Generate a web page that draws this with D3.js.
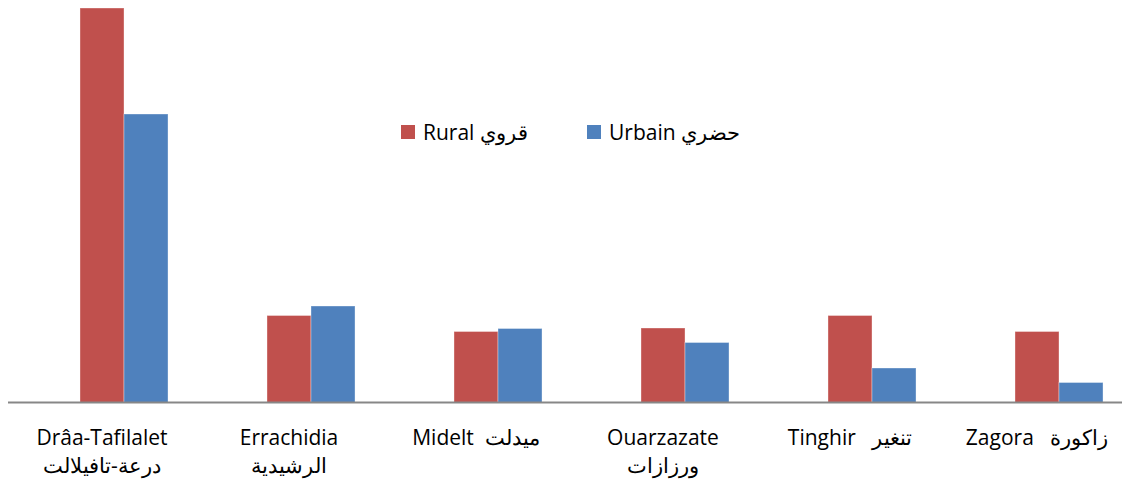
<!DOCTYPE html>
<meta charset="utf-8">
<style>
body { margin: 0; background: #fff; }
svg { font-family: "Open Sans", "Noto Sans", sans-serif; }
.lbl { font-size: 21px; fill: #000; white-space: pre; }
.legend text { font-size: 21px; fill: #000; white-space: pre; }
</style>
<body>
<script src="https://d3js.org/d3.v7.min.js"></script>
<script>

// categories (first line / second line of each tick label)
var provinces = ["Drâa-Tafilalet", "Errachidia", "Midelt", "Ouarzazate", "Tinghir", "Zagora"];
var labelLine1 = ["Drâa-Tafilalet", "Errachidia", "Midelt  ميدلت", "Ouarzazate", "Tinghir   تنغير", "Zagora   زاكورة"];
var labelLine2 = ["درعة-تافيلالت", "الرشيدية", "", "ورزازات", "", ""];

// series values
var rural  = [394.5, 87, 71, 74.5, 87, 71];
var urbain = [288.5, 96.5, 74, 60, 34.5, 20];

var seriesNames = ["Rural قروي", "Urbain حضري"];
var colors = ["#C0504D", "#4F81BD"];

var width = 1122, height = 487;
var baseY = 402.5;

var svg = d3.select("body").append("svg")
    .attr("width", width)
    .attr("height", height);

var x = d3.scaleBand()
    .domain(provinces)
    .range([8.5, 1130.5])
    .paddingInner(0.294)
    .paddingOuter(0.147);

// the source chart keeps an empty first slot in each group, so bars sit right of centre
var xs = d3.scaleBand()
    .domain(["_", "rural", "urbain"])
    .range([0, x.bandwidth()]);

var y = d3.scaleLinear()
    .domain([0, 400])
    .range([baseY, 2.5]);

var rows = provinces.map(function(p, i) {
  return {name: p, rural: rural[i], urbain: urbain[i]};
});

var groups = svg.selectAll("g.grp")
    .data(rows)
  .enter().append("g")
    .attr("class", "grp")
    .attr("transform", function(d) { return "translate(" + x(d.name) + ",0)"; });

["rural", "urbain"].forEach(function(k, j) {
  groups.append("rect")
    .attr("x", xs(k))
    .attr("width", xs.bandwidth())
    .attr("y", function(d) { return y(d[k]); })
    .attr("height", function(d) { return baseY - y(d[k]); })
    .attr("fill", colors[j])
    .attr("stroke", "rgba(255,255,255,0.35)")
    .attr("stroke-width", 1);
});

// axis line
var xAxis = d3.axisBottom(x).tickSize(0).tickFormat("");
var ax = svg.append("g")
    .attr("transform", "translate(0," + baseY + ")")
    .call(xAxis);
ax.select(".domain")
    .attr("d", "M8,0H1122")
    .attr("stroke", "#878787")
    .attr("stroke-width", 2);

// tick labels
var lbl = svg.selectAll("text.lbl")
    .data(provinces)
  .enter().append("text")
    .attr("class", "lbl")
    .attr("text-anchor", "middle");
lbl.append("tspan")
    .attr("x", function(d) { return x(d) + x.bandwidth() / 2; })
    .attr("y", 445)
    .text(function(d, i) { return labelLine1[i]; });
lbl.append("tspan")
    .attr("x", function(d) { return x(d) + x.bandwidth() / 2; })
    .attr("y", 473)
    .text(function(d, i) { return labelLine2[i]; });

// legend
var legend = svg.append("g").attr("class", "legend");
var legX = [401, 587];
seriesNames.forEach(function(n, i) {
  legend.append("rect")
    .attr("x", legX[i]).attr("y", 125)
    .attr("width", 14).attr("height", 14)
    .attr("fill", colors[i]);
  legend.append("text")
    .attr("x", legX[i] + 22).attr("y", 140)
    .text(n);
});

</script>
